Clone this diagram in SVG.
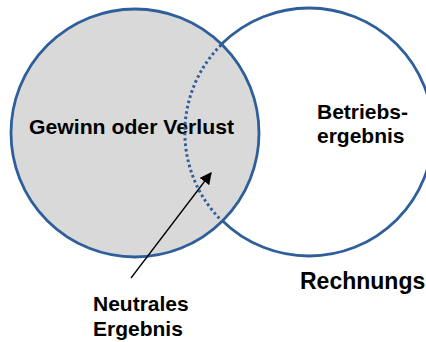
<svg xmlns="http://www.w3.org/2000/svg" width="426" height="342" viewBox="0 0 426 342">
<style>
.c{stroke:#2F5F9B;stroke-width:2.8}
.t{font-family:"Liberation Sans",Arial,sans-serif;font-weight:bold;fill:#000;font-size:21px}
</style>
<defs>
<marker id="ah" viewBox="0 0 10 10" refX="9" refY="5" markerWidth="12" markerHeight="12" markerUnits="userSpaceOnUse" orient="auto">
<path d="M0,0 L10,5 L0,10 z" fill="#000"/>
</marker>
</defs>
<rect width="426" height="342" fill="#fff"/>
<g id="rechnungskreis">
<circle class="c" cx="309" cy="132" r="124" fill="#fff"/>
</g>
<g id="gewinn">
<circle class="c" cx="135" cy="133" r="124" fill="#D9D9D9"/>
<text class="t" x="29" y="134" textLength="205" lengthAdjust="spacingAndGlyphs">Gewinn oder Verlust</text>
</g>
<g id="overlap">
<path d="M221,45 A124,124 0 0 0 222,221" fill="none" stroke="#2F5F9B" stroke-width="3" stroke-dasharray="2.6 2.8"/>
</g>
<g id="betriebsergebnis">
<text class="t" x="317" y="119">Betriebs-</text>
<text class="t" x="317" y="143">ergebnis</text>
</g>
<g id="rechnungs">
<text class="t" x="300" y="289" style="font-size:23px">Rechnungs</text>
</g>
<g id="neutrales">
<text class="t" x="93" y="311">Neutrales</text>
<text class="t" x="93" y="336">Ergebnis</text>
</g>
<g id="connectors">
<line x1="131" y1="278" x2="211" y2="173" stroke="#000" stroke-width="1.3" marker-end="url(#ah)"/>
</g>
</svg>
